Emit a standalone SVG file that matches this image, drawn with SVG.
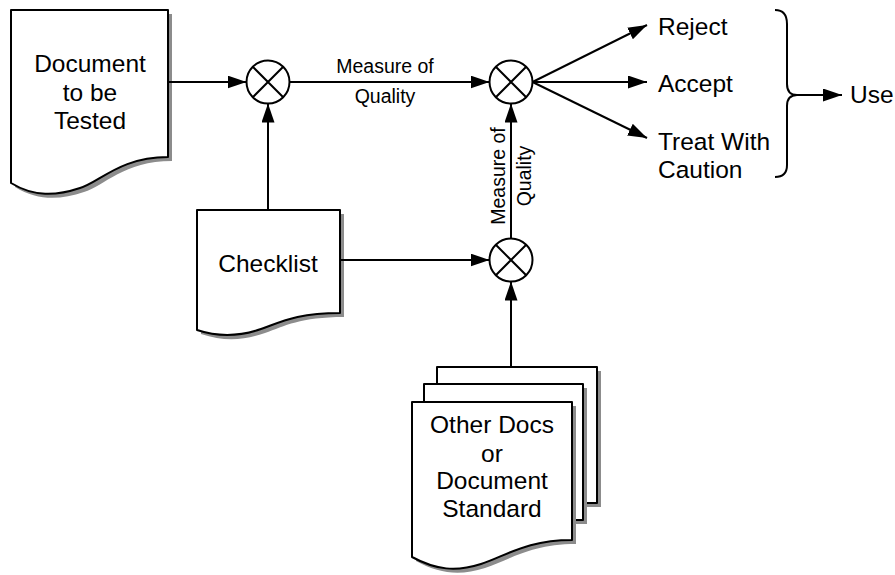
<svg xmlns="http://www.w3.org/2000/svg" width="895" height="575" viewBox="0 0 895 575">
  <style>
    .shape { fill: #ffffff; stroke: #000000; stroke-width: 2; stroke-linejoin: round; }
    .shadow { fill: #8c8c8c; stroke: none; }
    .wire { fill: none; stroke: #000000; stroke-width: 2; }
    .arrow { fill: none; stroke: #000000; stroke-width: 2; marker-end: url(#head); }
    .big { font-family: "Liberation Sans", Arial, sans-serif; font-size: 24.5px; fill: #000000; }
    .small { font-family: "Liberation Sans", Arial, sans-serif; font-size: 19.5px; fill: #000000; }
    .mid { text-anchor: middle; }
  </style>
  <defs>
    <marker id="head" markerUnits="userSpaceOnUse" markerWidth="20" markerHeight="14" refX="19" refY="6.5" orient="auto">
      <path d="M0,0 L19,6.5 L0,13 Z" fill="#000000"/>
    </marker>
    <!-- summing junction: circle with an X -->
    <g id="junction">
      <circle cx="0" cy="0" r="21.5" class="shape"/>
      <path d="M-15.2,-15.2 L15.2,15.2 M-15.2,15.2 L15.2,-15.2" class="wire"/>
    </g>
  </defs>

  <!-- Document to be Tested -->
  <g id="doc-tested">
    <path class="shadow" d="M15,14 H172 V161 C124,161 104,186 84,192 C60,200 38,201 15,187 Z"/>
    <path class="shape" d="M11,10 H168 V157 C120,157 100,182 80,188 C56,196 34,197 11,183 Z"/>
    <text class="big mid" x="90" y="72">Document</text>
    <text class="big mid" x="90" y="101">to be</text>
    <text class="big mid" x="90" y="129">Tested</text>
  </g>

  <!-- Checklist -->
  <g id="checklist">
    <path class="shadow" d="M201,214 H344 V317 C300,317 285,326 265,333 C245,340 225,342 201,334 Z"/>
    <path class="shape" d="M197,210 H340 V313 C296,313 281,322 261,329 C241,336 221,338 197,330 Z"/>
    <text class="big mid" x="268" y="272">Checklist</text>
  </g>

  <!-- Other Docs or Document Standard (stacked pages) -->
  <g id="other-docs">
    <path class="shadow" d="M441,371 H601 V507 H441 Z"/>
    <path class="shape" d="M437,367 H597 V503 H437 Z"/>
    <path class="shadow" d="M428,388 H587 V524 H428 Z"/>
    <path class="shape" d="M424,384 H583 V520 H424 Z"/>
    <path class="shadow" d="M416,406 H576 V544 C530,544 510,560 485,568 C460,576 440,574 416,561 Z"/>
    <path class="shape" d="M412,402 H572 V540 C526,540 506,556 481,564 C456,572 436,570 412,557 Z"/>
    <text class="big mid" x="492" y="433">Other Docs</text>
    <text class="big mid" x="492" y="462">or</text>
    <text class="big mid" x="492" y="489">Document</text>
    <text class="big mid" x="492" y="517">Standard</text>
  </g>

  <!-- Junctions -->
  <g id="junction-a"><use href="#junction" x="268" y="82"/></g>
  <g id="junction-b"><use href="#junction" x="511" y="82"/></g>
  <g id="junction-c"><use href="#junction" x="511" y="260"/></g>

  <!-- Outcomes -->
  <g id="out-reject"><text class="big" x="658" y="35">Reject</text></g>
  <g id="out-accept"><text class="big" x="658" y="92">Accept</text></g>
  <g id="out-caution">
    <text class="big" x="658" y="150">Treat With</text>
    <text class="big" x="658" y="178">Caution</text>
  </g>
  <g id="out-use"><text class="big" x="850" y="103">Use</text></g>

  <!-- Connectors -->
  <g id="connectors">
    <line class="arrow" x1="168" y1="82" x2="246.5" y2="82"/>
    <line class="arrow" x1="268" y1="210" x2="268" y2="103.5"/>
    <line class="arrow" x1="289.5" y1="82" x2="489.5" y2="82"/>
    <line class="arrow" x1="340" y1="260" x2="489.5" y2="260"/>
    <line class="arrow" x1="511" y1="367" x2="511" y2="281.5"/>
    <line class="arrow" x1="511" y1="238.5" x2="511" y2="103.5"/>
    <line class="arrow" x1="532.5" y1="82" x2="647" y2="25"/>
    <line class="arrow" x1="532.5" y1="82" x2="647" y2="82"/>
    <line class="arrow" x1="532.5" y1="82" x2="647" y2="138"/>
    <!-- brace grouping the outcomes -->
    <path class="wire" d="M775,10 Q787,10 787,24 V84 Q787,95 797,95 Q787,95 787,106 V165 Q787,177 775,177"/>
    <line class="arrow" x1="797" y1="95" x2="842" y2="95"/>
    <!-- connector labels -->
    <text class="small mid" x="385" y="73">Measure of</text>
    <text class="small mid" x="385" y="103">Quality</text>
    <text class="small mid" transform="translate(505,176) rotate(-90)">Measure of</text>
    <text class="small mid" transform="translate(531,176) rotate(-90)">Quality</text>
  </g>
</svg>
